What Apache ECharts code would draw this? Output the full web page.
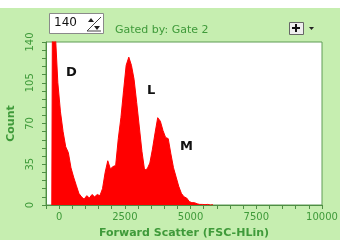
<!DOCTYPE html>
<html>
<head>
<meta charset="utf-8">
<script src="https://cdn.jsdelivr.net/npm/echarts@6/dist/echarts.min.js"></script>
<style>
  html, body { margin: 0; padding: 0; background: #c6eeb0; }
  #chart { width: 340px; height: 240px; }
</style>
</head>
<body>
<div id="chart"></div>
<script>
// histogram bins, 100 units wide (bin centres)
var binCenters = [-280, -250, -150, -50, 50, 150, 250, 350, 450, 550, 650, 750, 850, 950,
  1050, 1150, 1250, 1350, 1450, 1550, 1650, 1750, 1850, 1950, 2050, 2150, 2250, 2350,
  2450, 2550, 2650, 2750, 2850, 2950, 3050, 3150, 3250, 3350, 3450, 3550, 3650, 3750,
  3850, 3950, 4050, 4150, 4250, 4350, 4450, 4550, 4650, 4750, 4850, 4950, 5050, 5150,
  5250, 5350, 5450, 5550, 5650, 5750, 5850];
var counts = [0, 200, 150, 105, 80, 63, 50, 45, 32, 24, 17, 10, 7, 5,
  8, 6, 9, 7, 9, 8, 14, 28, 38, 31, 33, 34, 57, 75,
  98, 120, 127, 120, 108, 88, 67, 46, 30, 31, 36, 48, 62, 75,
  72, 64, 58, 57, 44, 32, 24, 16, 10, 7, 6, 3, 2, 2,
  1, 0.5, 0.5, 0.3, 0.5, 0, 0.3];
var xLabels = [0, 2500, 5000, 7500, 10000];
var yLabels = [0, 35, 70, 105, 140];
var peakNames = ['D', 'L', 'M'];

var green = '#3f9a3a';
var axisGreen = '#4e8e44';

var chart = echarts.init(document.getElementById('chart'));
chart.setOption({
  backgroundColor: '#c6eeb0',
  animation: false,
  grid: {
    left: 46, right: 18, top: 42, bottom: 35,
    outerBoundsMode: 'none',
    containLabel: false,
    show: true,
    backgroundColor: '#ffffff',
    borderColor: '#5f9c55',
    borderWidth: 1
  },
  xAxis: {
    type: 'value',
    min: -500,
    max: 10000,
    interval: 500,
    name: 'Forward Scatter (FSC-HLin)',
    nameLocation: 'middle',
    nameGap: 23,
    nameTextStyle: { color: green, fontSize: 11, fontWeight: 'bold', fontFamily: 'DejaVu Sans' },
    axisLine: { onZero: false, lineStyle: { color: axisGreen, width: 1 } },
    axisTick: { length: 4, lineStyle: { color: axisGreen } },
    splitLine: { show: false },
    axisLabel: {
      color: green, fontSize: 10, margin: 7, fontFamily: 'DejaVu Sans',
      formatter: function (v) { return xLabels.indexOf(v) >= 0 ? String(v) : ''; }
    }
  },
  yAxis: {
    type: 'value',
    min: 0,
    max: 140,
    interval: 7,
    name: 'Count',
    nameLocation: 'middle',
    nameGap: 25,
    nameTextStyle: { color: green, fontSize: 11, fontWeight: 'bold', fontFamily: 'DejaVu Sans' },
    axisLine: { show: true, onZero: false, lineStyle: { color: axisGreen, width: 1 } },
    axisTick: { length: 4, lineStyle: { color: axisGreen } },
    splitLine: { show: false },
    axisLabel: {
      color: green, fontSize: 10, margin: 11, rotate: 90, fontFamily: 'DejaVu Sans',
      formatter: function (v) { return yLabels.indexOf(v) >= 0 ? String(v) : ''; }
    }
  },
  series: [{
    type: 'line',
    symbol: 'none',
    clip: true,
    lineStyle: { color: '#ff0000', width: 1 },
    areaStyle: { color: '#ff0000', opacity: 1 },
    data: binCenters.map(function (c, i) { return [c, counts[i]]; })
  }],
  graphic: [
    { type: 'rect', left: 0, top: 0, shape: { width: 340, height: 8 }, style: { fill: '#ffffff' } },
    // value spinner
    { type: 'rect', left: 49, top: 13, shape: { width: 54, height: 20 }, style: { fill: '#ffffff', stroke: '#8a8a8a', lineWidth: 1 } },
    { type: 'text', left: 54, top: 17, style: { text: '140', fill: '#111', font: '12px "DejaVu Sans"' } },
    { type: 'polygon', shape: { points: [[88, 22], [91, 18], [94, 22]] }, style: { fill: '#222' } },
    { type: 'polygon', shape: { points: [[94, 26], [97, 30], [100, 26]] }, style: { fill: '#222' } },
    { type: 'line', shape: { x1: 87, y1: 31, x2: 101, y2: 17 }, style: { stroke: '#444', lineWidth: 1 } },
    { type: 'line', shape: { x1: 87, y1: 31, x2: 101, y2: 31 }, style: { stroke: '#444', lineWidth: 1 } },
    { type: 'text', left: 115, top: 25, style: { text: 'Gated by: Gate 2', fill: green, font: '11px "DejaVu Sans"' } },
    // + button and menu arrow
    { type: 'rect', left: 289, top: 22, shape: { width: 14, height: 12 }, style: { fill: '#eeeeee', stroke: '#666', lineWidth: 1 } },
    { type: 'line', shape: { x1: 292, y1: 28, x2: 300, y2: 28 }, style: { stroke: '#111', lineWidth: 2 } },
    { type: 'line', shape: { x1: 296, y1: 24, x2: 296, y2: 32 }, style: { stroke: '#111', lineWidth: 2 } },
    { type: 'polygon', shape: { points: [[309, 27], [314, 27], [311.5, 30]] }, style: { fill: '#222' } },
    // peak names
    { type: 'text', left: 66, top: 66, style: { text: peakNames[0], fill: '#111', font: 'bold 13px "DejaVu Sans"' } },
    { type: 'text', left: 147, top: 84, style: { text: peakNames[1], fill: '#111', font: 'bold 13px "DejaVu Sans"' } },
    { type: 'text', left: 180, top: 140, style: { text: peakNames[2], fill: '#111', font: 'bold 13px "DejaVu Sans"' } }
  ]
});
</script>
</body>
</html>
